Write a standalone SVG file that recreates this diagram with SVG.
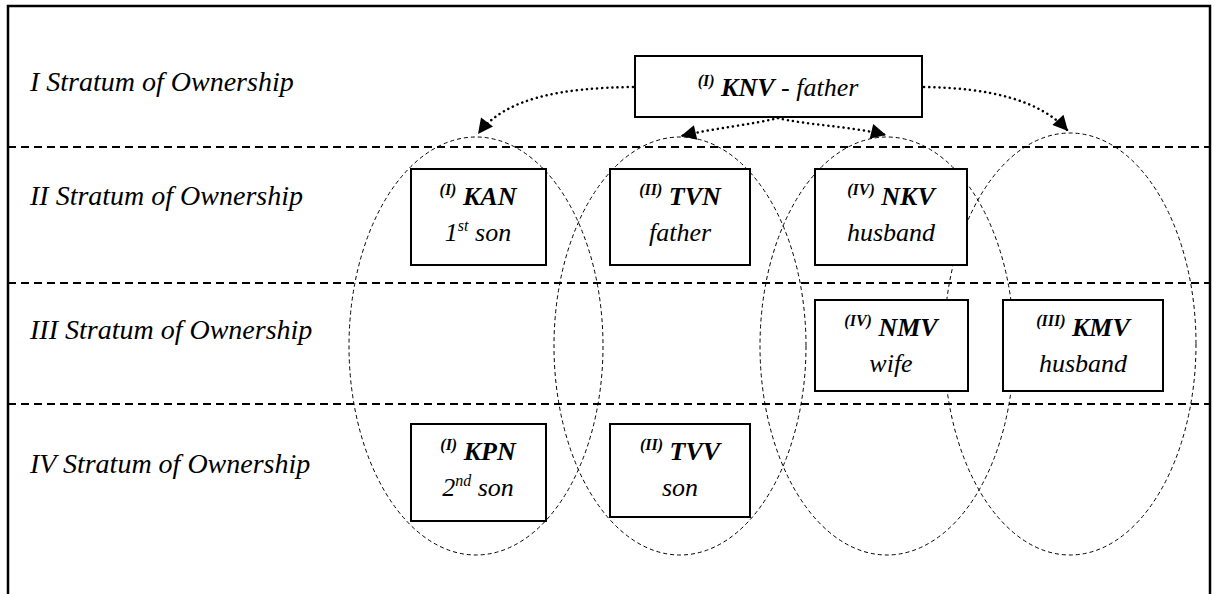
<svg xmlns="http://www.w3.org/2000/svg" width="1214" height="594" viewBox="0 0 1214 594">
<style>
.frame{fill:none;stroke:#000;stroke-width:2.5}
.sep{fill:none;stroke:#000;stroke-width:2;stroke-dasharray:8 5}
.ell{fill:none;stroke:#000;stroke-width:1;stroke-dasharray:4 3}
.box{fill:#fff;stroke:#000;stroke-width:2}
.lbl{font-family:"Liberation Serif","Times New Roman",serif;font-style:italic;font-size:28px;fill:#000}
.t{font-family:"Liberation Serif","Times New Roman",serif;font-style:italic;font-size:26px;fill:#000;text-anchor:middle}
.b{font-weight:bold}
.sup{font-size:16px;font-weight:bold}
.sups{font-size:16px}
.arr{fill:none;stroke:#000;stroke-width:2.5;stroke-dasharray:0.1 5;stroke-linecap:round}
</style>
<defs>
<marker id="ah" viewBox="0 0 10 10" refX="10" refY="5" markerWidth="20" markerHeight="15" markerUnits="userSpaceOnUse" orient="auto">
<path d="M0,0 L10,5 L0,10 z" fill="#000"/>
</marker>
</defs>
<path class="frame" d="M8,594 L8,6 L1210,6 L1210,594"/>
<g id="separators">
<line class="sep" x1="8" y1="147" x2="1210" y2="147"/>
<line class="sep" x1="8" y1="283" x2="1210" y2="283"/>
<line class="sep" x1="8" y1="404" x2="1210" y2="404"/>
</g>
<g id="labels">
<text class="lbl" x="30" y="91">I Stratum of Ownership</text>
<text class="lbl" x="30" y="205">II Stratum of Ownership</text>
<text class="lbl" x="30" y="339">III Stratum of Ownership</text>
<text class="lbl" x="30" y="473">IV Stratum of Ownership</text>
</g>
<g id="groups">
<ellipse class="ell" cx="476" cy="346" rx="127" ry="209"/>
<ellipse class="ell" cx="680" cy="346" rx="126" ry="209"/>
<ellipse class="ell" cx="887" cy="346" rx="127" ry="209"/>
<ellipse class="ell" cx="1070" cy="344" rx="126" ry="211"/>
</g>
<g id="KNV">
<rect class="box" x="635" y="56" width="287" height="61"/>
<text class="t" x="778" y="96"><tspan class="sup" dy="-10">(I)</tspan><tspan class="b" dy="10"> KNV</tspan> - father</text>
</g>
<g id="KAN">
<rect class="box" x="411" y="169" width="135" height="96"/>
<text class="t" x="478" y="205"><tspan class="sup" dy="-10">(I)</tspan><tspan class="b" dy="10"> KAN</tspan></text>
<text class="t" x="478" y="241">1<tspan class="sups" dy="-10">st</tspan><tspan dy="10"> son</tspan></text>
</g>
<g id="TVN">
<rect class="box" x="610" y="169" width="140" height="96"/>
<text class="t" x="680" y="205"><tspan class="sup" dy="-10">(II)</tspan><tspan class="b" dy="10"> TVN</tspan></text>
<text class="t" x="680" y="241">father</text>
</g>
<g id="NKV">
<rect class="box" x="815" y="169" width="152" height="96"/>
<text class="t" x="891" y="205"><tspan class="sup" dy="-10">(IV)</tspan><tspan class="b" dy="10"> NKV</tspan></text>
<text class="t" x="891" y="241">husband</text>
</g>
<g id="NMV">
<rect class="box" x="815" y="300" width="153" height="91"/>
<text class="t" x="891" y="336"><tspan class="sup" dy="-10">(IV)</tspan><tspan class="b" dy="10"> NMV</tspan></text>
<text class="t" x="891" y="372">wife</text>
</g>
<g id="KMV">
<rect class="box" x="1003" y="300" width="160" height="91"/>
<text class="t" x="1083" y="336"><tspan class="sup" dy="-10">(III)</tspan><tspan class="b" dy="10"> KMV</tspan></text>
<text class="t" x="1083" y="372">husband</text>
</g>
<g id="KPN">
<rect class="box" x="411" y="424" width="135" height="97"/>
<text class="t" x="478" y="460"><tspan class="sup" dy="-10">(I)</tspan><tspan class="b" dy="10"> KPN</tspan></text>
<text class="t" x="478" y="496">2<tspan class="sups" dy="-10">nd</tspan><tspan dy="10"> son</tspan></text>
</g>
<g id="TVV">
<rect class="box" x="610" y="424" width="140" height="93"/>
<text class="t" x="680" y="460"><tspan class="sup" dy="-10">(II)</tspan><tspan class="b" dy="10"> TVV</tspan></text>
<text class="t" x="680" y="496">son</text>
</g>
<g id="connectors">
<path class="arr" d="M633,87 C560,88 505,98 478,134" marker-end="url(#ah)"/>
<path class="arr" d="M924,87 C990,88 1040,100 1068,131" marker-end="url(#ah)"/>
<path class="arr" d="M778,118 C750,125 715,128 681,136" marker-end="url(#ah)"/>
<path class="arr" d="M778,118 C805,125 850,126 886,135" marker-end="url(#ah)"/>
</g>
</svg>
